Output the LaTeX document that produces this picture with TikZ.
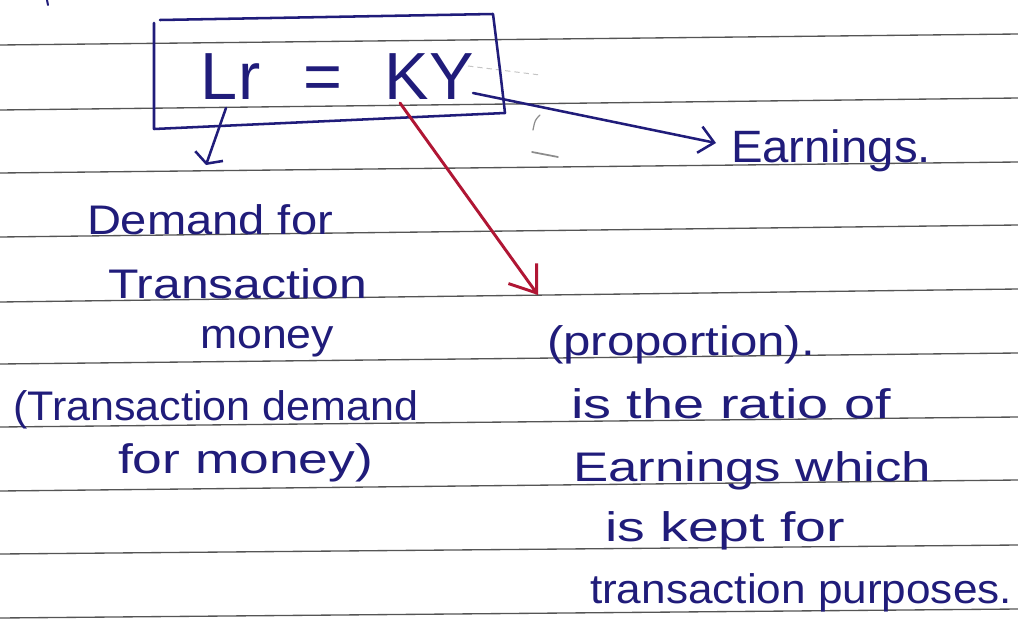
\documentclass[tikz,border=0pt]{standalone}
\usepackage{fontspec}
\setmainfont{Liberation Sans}
\usepackage{graphicx}
\usetikzlibrary{arrows.meta}
\definecolor{ink}{RGB}{32,28,122}
\definecolor{redink}{RGB}{176,22,52}
\definecolor{ruleink}{RGB}{85,85,85}
\definecolor{faintink}{RGB}{140,140,140}
\newdimen\pxu \pxu=0.75pt
\newcommand{\handw}[2]{\resizebox{#1\pxu}{\height}{#2}}
\begin{document}
\begin{tikzpicture}[x=0.75pt,y=-0.75pt,
  ruleline/.style={draw=ruleink,line width=1.0pt},
  txt/.style={anchor=base west,inner sep=0pt,outer sep=0pt,text=ink,font=\fontsize{31pt}{31pt}\selectfont},
  inkline/.style={draw=ink,line width=1.9pt,line cap=round,line join=round},
  bluearrow/.style={inkline,-{Straight Barb[length=11pt,width=20pt,line width=1.9pt]}},
  smallarrow/.style={inkline,-{Straight Barb[length=6pt,width=22pt,line width=1.9pt]}},
  redarrow/.style={draw=redink,line width=2.2pt,line cap=round,-{Straight Barb[length=18pt,width=26pt,line width=2.2pt]}},
  faint/.style={draw=faintink,line width=0.9pt,line cap=round}]
\useasboundingbox (0,0) rectangle (1018,621);
\fill[white] (0,0) rectangle (1018,621);
% ruled paper
\foreach \a/\b in {45/34,110/98,173/162,237/225,302/289,364/353,427/417,491/480,554/545,618/609}
  \draw[ruleline] (0,\a) -- (1018,\b);
% stray marks
\draw[inkline,line width=1.5pt] (47,0) -- (48,5);
\draw[faint] (540,115) .. controls (535,120) .. (533,130);
\draw[faint,line width=1.3pt] (532,152) -- (558,157);
\draw[draw=faintink!50,line width=0.7pt,dash pattern=on 4pt off 3pt] (468,66) -- (540,75);
% boxed equation
\draw[inkline] (154,23) -- (154,129) -- (505,113) -- (500,70) -- (493,14) -- (160,20);
\node[txt,font=\fontsize{50pt}{50pt}\selectfont] (eq) at (200,99) {L\kern1pt r\hspace{32pt}=\hspace{32pt}KY};
% anchors for connectors
\coordinate (lfoot) at (226,108);
\coordinate (ltip) at (206,165);
\coordinate (kfoot) at (400,103);
\coordinate (redtip) at (538,295);
\coordinate (ydot) at (473,93);
\coordinate (earntip) at (716,143);
% labels
\node[txt,font=\fontsize{34pt}{34pt}\selectfont] (earn) at (731,162) {\handw{200}{Earnings.}};
\node[txt] (d1) at (87,234) {\handw{246}{Demand for}};
\node[txt] (d2) at (108,298) {\handw{259}{Transaction}};
\node[txt] (d3) at (200,348) {\handw{134}{money}};
\node[txt] (d4) at (13,420) {\handw{405}{(Transaction demand}};
\node[txt] (d5) at (118,473) {\handw{255}{for money)}};
\node[txt] (p1) at (547,355) {\handw{268}{(proportion).}};
\node[txt] (p2) at (571,418) {\handw{320}{is the ratio of}};
\node[txt] (p3) at (573,481) {\handw{358}{Earnings which}};
\node[txt] (p4) at (605,541) {\handw{240}{is kept for}};
\node[txt] (p5) at (590,603) {\handw{422}{transaction purposes.}};
% connectors
\draw[smallarrow] (lfoot) -- (ltip);
\draw[bluearrow] (ydot) -- (earntip);
\draw[redarrow] (kfoot) -- (redtip);
\end{tikzpicture}
\end{document}
